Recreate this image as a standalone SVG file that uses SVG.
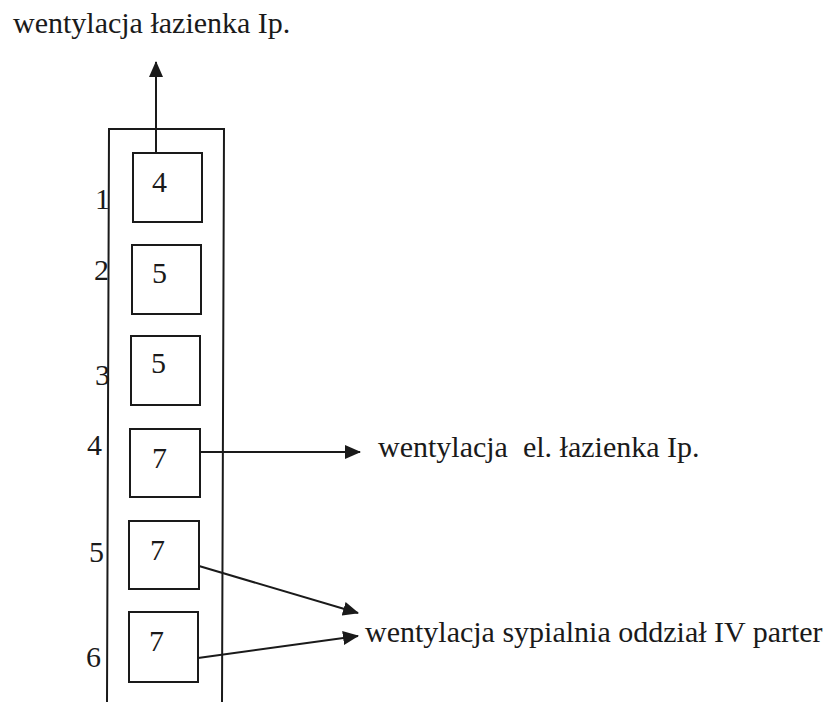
<svg xmlns="http://www.w3.org/2000/svg" width="837" height="702" viewBox="0 0 837 702">
<defs>
<style>
.t{font-family:"Liberation Serif","Times New Roman",serif;font-size:30px;fill:#1a1a1a;white-space:pre}
.b{fill:none;stroke:#1a1a1a;stroke-width:2}
.c{fill:none;stroke:#1a1a1a;stroke-width:2;marker-end:url(#ah)}
</style>
<marker id="ah" markerUnits="userSpaceOnUse" markerWidth="16" markerHeight="14" refX="15" refY="7" orient="auto">
<path d="M0,0 L16,7 L0,14 z" fill="#1a1a1a"/>
</marker>
</defs>
<rect width="837" height="702" fill="#fff"/>
<text class="t" x="13" y="33">wentylacja łazienka Ip.</text>
<g id="shaft">
<path class="b" d="M107,705 L109,129 L224,129 L222,705"/>
</g>
<g id="labels">
<text class="t" x="95" y="209">1</text>
<text class="t" x="94" y="280">2</text>
<text class="t" x="95" y="385">3</text>
<text class="t" x="87" y="455">4</text>
<text class="t" x="89" y="562">5</text>
<text class="t" x="86" y="667">6</text>
</g>
<g id="n1"><rect class="b" x="133" y="153" width="69" height="69"/><text class="t" x="152" y="192">4</text></g>
<g id="n2"><rect class="b" x="132" y="245" width="69" height="69"/><text class="t" x="152" y="283">5</text></g>
<g id="n3"><rect class="b" x="131" y="336" width="69" height="69"/><text class="t" x="151" y="373">5</text></g>
<g id="n4"><rect class="b" x="130" y="429" width="70" height="68"/><text class="t" x="152" y="468">7</text></g>
<g id="n5"><rect class="b" x="129" y="521" width="70" height="68"/><text class="t" x="150" y="560">7</text></g>
<g id="n6"><rect class="b" x="129" y="612" width="69" height="70"/><text class="t" x="149" y="651">7</text></g>
<g id="connectors">
<line class="c" x1="156" y1="153" x2="156" y2="62"/>
<line class="c" x1="200" y1="452" x2="360" y2="452"/>
<line class="c" x1="199" y1="566" x2="358" y2="613"/>
<line class="c" x1="198" y1="658" x2="358" y2="636"/>
</g>
<text class="t" x="378" y="457">wentylacja  el. łazienka Ip.</text>
<text class="t" x="365" y="642">wentylacja sypialnia oddział IV parter</text>
</svg>
